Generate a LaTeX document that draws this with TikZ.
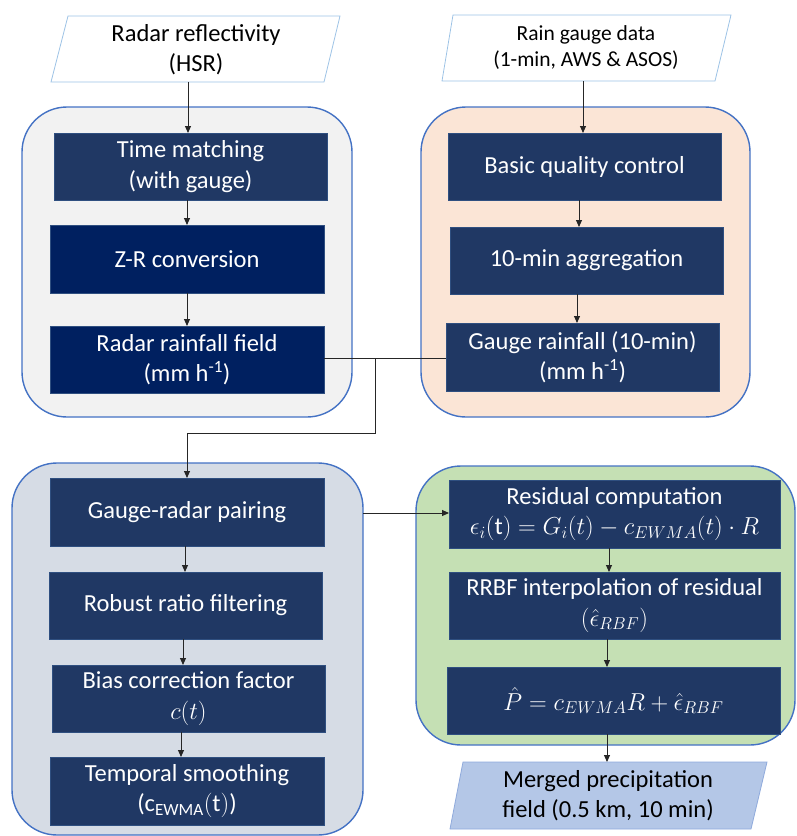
\documentclass[tikz,border=0pt]{standalone}
\usepackage{fix-cm}
\usepackage{fontspec}
\setmainfont{Carlito}
\usetikzlibrary{arrows.meta,calc}
\definecolor{navyA}{HTML}{203864}
\definecolor{navyB}{HTML}{002060}
\definecolor{boxline}{HTML}{2F4F80}
\definecolor{contline}{HTML}{4472C4}
\definecolor{greyfill}{HTML}{F2F2F2}
\definecolor{peachfill}{HTML}{FBE5D6}
\definecolor{bluefill}{HTML}{D6DCE5}
\definecolor{greenfill}{HTML}{C5E0B4}
\definecolor{inline}{HTML}{9DC3E6}
\definecolor{outfill}{HTML}{B4C7E7}
\definecolor{outline}{HTML}{8FAADC}
\begin{document}
\begin{tikzpicture}[x=1pt,y=-1pt,
  every node/.style={inner sep=0pt,outer sep=0pt},
  cont/.style={draw=contline,line width=1.4pt,rounded corners=45pt},
  stepbox/.style={draw=boxline,line width=0.8pt,fill=navyA,text=white,align=center,
     font=\fontsize{24.5}{30.5}\selectfont},
  stepboxB/.style={stepbox,fill=navyB},
  iotext/.style={align=center,text=black},
  arr/.style={draw=black!85,line width=0.9pt,-{Triangle[length=7pt,width=6pt]}},
  conn/.style={draw=black!85,line width=0.9pt}]
\useasboundingbox (0,0) rectangle (796,836);
% containers
\node[cont,fill=greyfill,minimum width=330pt,minimum height=310pt] (C1) at (187,262) {};
\node[cont,fill=peachfill,minimum width=329pt,minimum height=310pt] (C2) at (585.5,262) {};
\node[cont,fill=bluefill,minimum width=351pt,minimum height=372pt] (C3) at (187.5,649) {};
\node[cont,fill=greenfill,minimum width=379pt,minimum height=279pt] (C4) at (605.5,605.5) {};
% inputs
\draw[draw=inline,line width=0.8pt,fill=white] (68,16) -- (340,16) -- (324,82) -- (51,82) -- cycle;
\node[iotext,font=\fontsize{24.5}{30}\selectfont] (in1) at (196,50) {Radar reflectivity\\(HSR)};
\coordinate (in1b) at (188,82);
\draw[draw=inline,line width=0.8pt,fill=white] (453,15) -- (731,15) -- (715,81) -- (442,81) -- cycle;
\node[iotext,font=\fontsize{21.5}{26}\selectfont] (in2) at (586,48) {Rain gauge data\\(1-min, AWS \& ASOS)};
\coordinate (in2b) at (583,81);
% output
\draw[draw=outline,line width=0.8pt,fill=outfill] (463,762) -- (767,762) -- (751,829) -- (450,829) -- cycle;
\node[iotext,font=\fontsize{24.5}{30}\selectfont] (out) at (608,796) {Merged precipitation\\field (0.5 km, 10 min)};
\coordinate (outt) at (607,762);
% left column
\node[stepbox,minimum width=273pt,minimum height=67pt] (B1) at (190.5,166.5) {Time matching\\(with gauge)};
\node[stepboxB,minimum width=274pt,minimum height=68pt] (B2) at (187,259) {Z-R conversion};
\node[stepboxB,minimum width=274pt,minimum height=67pt] (B3) at (187,359.5) {Radar rainfall field\\(mm h\textsuperscript{-1})};
% right column
\node[stepbox,minimum width=273pt,minimum height=67pt] (R1) at (584.5,166.5) {Basic quality control};
\node[stepbox,minimum width=273pt,minimum height=67pt] (R2) at (586.5,260.5) {10-min aggregation};
\node[stepbox,minimum width=273pt,minimum height=68pt] (R3) at (582.5,357) {Gauge rainfall (10-min)\\(mm h\textsuperscript{-1})};
% bottom left
\node[stepbox,minimum width=274pt,minimum height=68pt] (L1) at (187,512) {Gauge-radar pairing};
\node[stepbox,minimum width=273pt,minimum height=67pt] (L2) at (185.5,605.5) {Robust ratio filtering};
\node[stepbox,minimum width=273pt,minimum height=67pt] (L3) at (188.5,698.5) {Bias correction factor\\$c(t)$};
\node[stepbox,minimum width=274pt,minimum height=68pt] (L4) at (187,791) {Temporal smoothing\\($\mathrm{c}_{\mathrm{EWMA}}(\mathrm{t})$)};
% bottom right
\node[stepbox,minimum width=331pt,minimum height=68pt] (G1) at (614.5,514) {Residual computation\\$\epsilon_i(\mathrm{t}) = G_i(t) - c_{EWMA}(t)\cdot R$};
\node[stepbox,minimum width=331pt,minimum height=67pt] (G2) at (614.5,605.5) {RRBF interpolation of residual\\$(\hat{\epsilon}_{RBF})$};
\node[stepbox,minimum width=333pt,minimum height=67pt] (G3) at (613.5,700.5) {$\hat{P} = c_{EWMA}R + \hat{\epsilon}_{RBF}$};
% arrows
\draw[arr] (in1b) -- (in1b |- B1.north);
\draw[arr] (B1.south -| B2.north) -- (B2.north);
\draw[arr] (B2.south) -- (B3.north);
\draw[arr] (in2b) -- (in2b |- R1.north);
\draw[arr] (R1.south -| 579,0) -- (R2.north -| 579,0);
\draw[arr] (R2.south -| 577,0) -- (R3.north -| 577,0);
\coordinate (j1) at (375,358);
\coordinate (j2) at (375,433);
\draw[conn] (B3.east |- j1) -- (R3.west |- j1);
\draw[arr] (j1) -- (j2) -| (L1.north);
\draw[arr] (L1.south -| 185,0) -- (L2.north -| 185,0);
\draw[arr] (L2.south -| 183,0) -- (L3.north -| 183,0);
\draw[arr] (L3.south -| 181,0) -- (L4.north -| 181,0);
\draw[arr] (C3.east |- 0,513) -- (G1.west |- 0,513);
\draw[arr] (G1.south -| 609,0) -- (G2.north -| 609,0);
\draw[arr] (G2.south -| 607,0) -- (G3.north -| 607,0);
\draw[arr] (G3.south -| outt) -- (outt);
\end{tikzpicture}
\end{document}
